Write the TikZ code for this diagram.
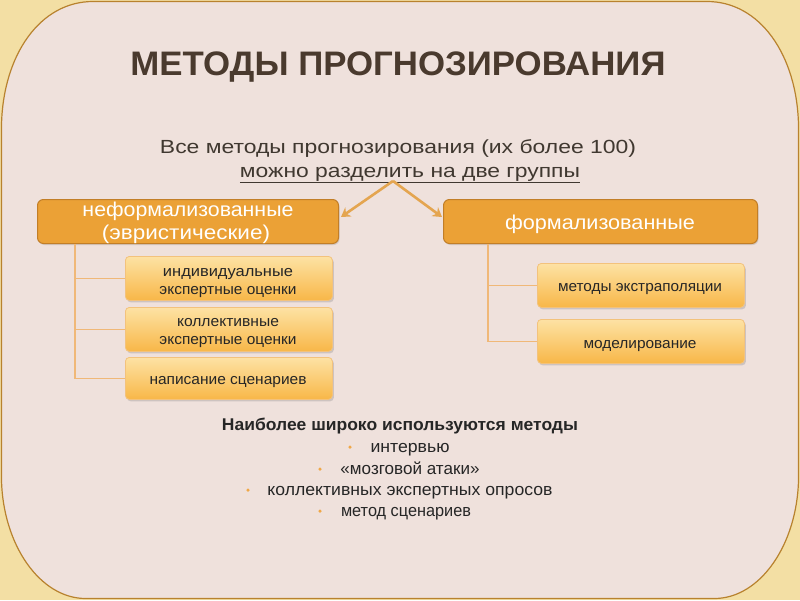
\documentclass[tikz,border=0pt]{standalone}
\usepackage{fontspec}
\setmainfont{Liberation Sans}
\usetikzlibrary{shadows,arrows.meta,calc}
\definecolor{outerbg}{HTML}{F3DFA4}
\definecolor{innerbg}{HTML}{EFE1DC}
\definecolor{frameline}{HTML}{B8822E}
\definecolor{titlecol}{HTML}{4A3A2E}
\definecolor{subcol}{HTML}{403830}
\definecolor{mainfill}{HTML}{EBA136}
\definecolor{mainborder}{HTML}{C27E27}
\definecolor{subtop}{HTML}{FDE2A4}
\definecolor{subbot}{HTML}{F8B748}
\definecolor{subborder}{HTML}{F3C27C}
\definecolor{treecol}{HTML}{F0B878}
\definecolor{arrowcol}{HTML}{E4A550}
\definecolor{bulletcol}{HTML}{F0A848}
\newcommand\fw[2]{\resizebox{#1}{\height}{#2}}
\tikzset{
  mainbox/.style={draw=mainborder, line width=1pt, fill=mainfill, rounded corners=6pt,
    drop shadow={shadow xshift=1pt, shadow yshift=-1.5pt, opacity=0.25}},
  subbox/.style={draw=subborder, line width=0.8pt, top color=subtop, bottom color=subbot,
    rounded corners=4pt, drop shadow={shadow xshift=1.5pt, shadow yshift=-2pt, opacity=0.3}},
  treeline/.style={draw=treecol, line width=1.1pt},
  mtext/.style={anchor=base, inner sep=0pt, text=white, font=\fontsize{20}{24}\selectfont},
  stext/.style={anchor=base, inner sep=0pt, text=black!85, font=\fontsize{15}{18}\selectfont},
  btext/.style={anchor=base, inner sep=0pt, text=black!85, font=\fontsize{17}{20}\selectfont},
  bullet/.style={circle, fill=bulletcol, inner sep=0pt, minimum size=3.5pt},
  grouparrow/.style={draw=arrowcol, line width=2.6pt, -{Stealth[length=9pt,width=11pt]}}
}
\begin{document}
\begin{tikzpicture}[x=1pt,y=-1pt]
\useasboundingbox (0,0) rectangle (800,600);
% background
\fill[outerbg] (0,0) rectangle (800,600);
\filldraw[fill=innerbg, draw=frameline, line width=1.2pt]
  (93,1.5) -- (707,1.5) .. controls (760,1.5) and (797,55) .. (798.5,125)
  -- (798.5,480) .. controls (797,545) and (760,598) .. (715,598.5)
  -- (85,598.5) .. controls (40,598) and (3,545) .. (1.5,480)
  -- (1.5,125) .. controls (3,55) and (40,1.5) .. (93,1.5) -- cycle;
% title
\node[anchor=base, inner sep=0pt, text=titlecol, font=\fontsize{34}{40}\selectfont\bfseries] (title) at (398,75) {\fw{535pt}{МЕТОДЫ ПРОГНОЗИРОВАНИЯ}};
% subtitle
\node[anchor=base, inner sep=0pt, text=subcol, font=\fontsize{19}{23}\selectfont] (sub1) at (398,153) {\fw{476pt}{Все методы прогнозирования (их более 100)}};
\node[anchor=base, inner sep=0pt, text=subcol, font=\fontsize{19}{23}\selectfont] (sub2) at (410,177) {\fw{340pt}{\underline{можно разделить на две группы}}};
% main boxes
\node[mainbox, anchor=north west, minimum width=301pt, minimum height=44pt] (lmain) at (37,199) {};
\node[mainbox, anchor=north west, minimum width=314pt, minimum height=44pt] (rmain) at (443,199) {};
\node[mtext] (lmt1) at (188,216) {\fw{211pt}{неформализованные}};
\node[mtext] (lmt2) at (186,239) {\fw{168pt}{(эвристические)}};
\node[mtext] (rmt) at (600,229) {\fw{190pt}{формализованные}};
% arrows
\coordinate (apex) at (393,181);
\coordinate (lend) at (341,217);
\coordinate (rend) at (442,217);
\draw[grouparrow] (apex) -- (lend);
\draw[grouparrow] (apex) -- (rend);
% left sub boxes
\node[subbox, anchor=north west, minimum width=207pt, minimum height=44pt] (ls1) at (125,256) {};
\node[subbox, anchor=north west, minimum width=207pt, minimum height=44pt] (ls2) at (125,307) {};
\node[subbox, anchor=north west, minimum width=207pt, minimum height=42pt] (ls3) at (125,357) {};
\node[stext] (ls1a) at (228,276) {\fw{130pt}{индивидуальные}};
\node[stext] (ls1b) at (228,294) {\fw{137pt}{экспертные оценки}};
\node[stext] (ls2a) at (228,326) {\fw{102pt}{коллективные}};
\node[stext] (ls2b) at (228,344) {\fw{137pt}{экспертные оценки}};
\node[stext] (ls3a) at (228,384) {\fw{157pt}{написание сценариев}};
% right sub boxes
\node[subbox, anchor=north west, minimum width=207pt, minimum height=44pt] (rs1) at (537,263) {};
\node[subbox, anchor=north west, minimum width=207pt, minimum height=44pt] (rs2) at (537,319) {};
\node[stext] (rs1a) at (640,291) {\fw{164pt}{методы экстраполяции}};
\node[stext] (rs2a) at (640,348) {\fw{113pt}{моделирование}};
% tree lines
\coordinate (ltop) at ($(lmain.south west)+(38,0)$);
\coordinate (rtop) at ($(rmain.south west)+(45,0)$);
\draw[treeline] (ltop) |- (ls3.west);
\draw[treeline] (ltop |- ls1.west) -- (ls1.west);
\draw[treeline] (ltop |- ls2.west) -- (ls2.west);
\draw[treeline] (rtop) |- (rs2.west);
\draw[treeline] (rtop |- rs1.west) -- (rs1.west);
% bottom list
\node[btext, font=\fontsize{17}{20}\selectfont\bfseries] (bhead) at (400,430) {\fw{356pt}{Наиболее широко используются методы}};
\node[btext] (b1) at (410,452) {\fw{79pt}{интервью}};
\node[btext] (b2) at (410,474) {\fw{139pt}{«мозговой атаки»}};
\node[btext] (b3) at (410,495) {\fw{285pt}{коллективных экспертных опросов}};
\node[btext] (b4) at (406,516) {\fw{130pt}{метод сценариев}};
\node[bullet] (d1) at (350,447) {};
\node[bullet] (d2) at (320,469) {};
\node[bullet] (d3) at (248,490) {};
\node[bullet] (d4) at (320,511) {};
\end{tikzpicture}
\end{document}
